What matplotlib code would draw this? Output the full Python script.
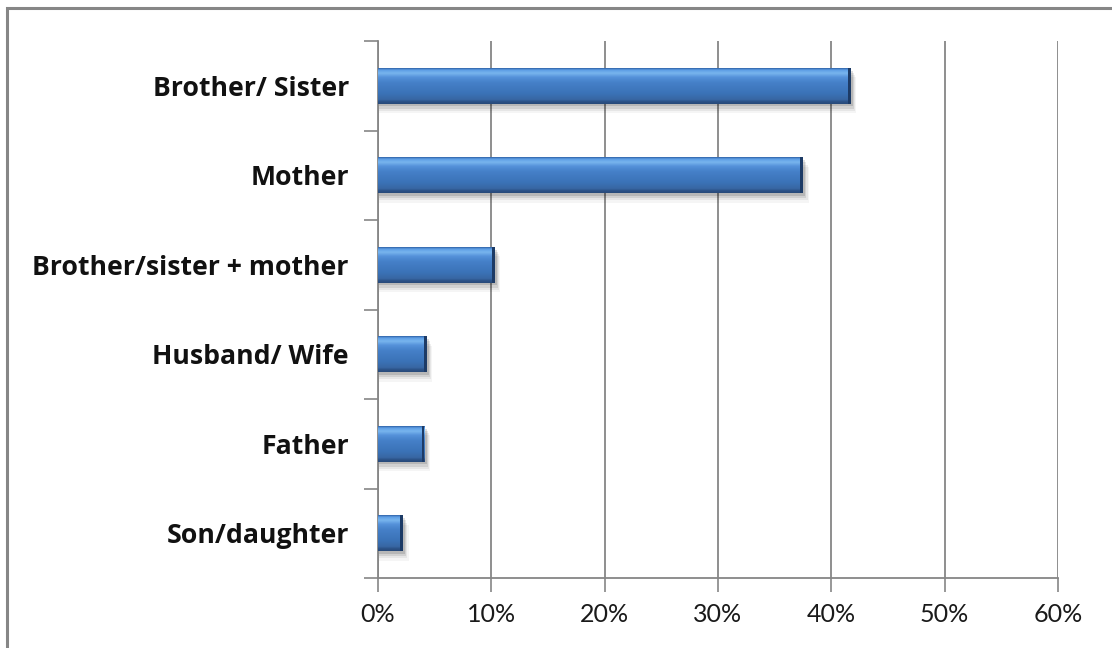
import matplotlib
matplotlib.use('Agg')
import matplotlib.pyplot as plt
import numpy as np
from matplotlib.colors import LinearSegmentedColormap
from matplotlib.patches import Rectangle

categories = ['Brother/ Sister', 'Mother', 'Brother/sister + mother',
              'Husband/ Wife', 'Father', 'Son/daughter']
shares = [0.417, 0.375, 0.103, 0.043, 0.041, 0.022]
tick_values = [0.0, 0.1, 0.2, 0.3, 0.4, 0.5, 0.6]
tick_labels = ['0%', '10%', '20%', '30%', '40%', '50%', '60%']

W, H = 1112, 648
fig = plt.figure(figsize=(W / 100, H / 100), dpi=100)
fig.patch.set_facecolor('white')

# outer chart frame (runs off the right and bottom edges)
fig.patches.append(Rectangle((7 / W, -0.05), 1.2, 1 - 8 / H + 0.05,
                             transform=fig.transFigure, fill=False,
                             edgecolor='#868686', linewidth=2.2, zorder=0))

ax = fig.add_axes([378 / W, 1 - 578 / H, 680 / W, 537 / H])

pos = np.arange(len(categories))
bar_h = 0.4

# soft shadow under each bar
for p, v in zip(pos, shares):
    for k, a in enumerate([0.12, 0.09, 0.06, 0.04]):
        off = 0.03 + k * 0.025
        ax.add_patch(Rectangle((0.001, p - bar_h / 2 + off), v + 0.001 * (k + 1), bar_h,
                               facecolor='#000000', alpha=a, edgecolor='none', zorder=2))

bars = ax.barh(pos, shares, height=bar_h, color='#3d78c0', edgecolor='none', zorder=3)

grad = LinearSegmentedColormap.from_list('bar3d', [
    (0.00, '#2f62a6'), (0.05, '#5d9ee6'), (0.14, '#78b5ee'),
    (0.25, '#5592da'), (0.40, '#4580c8'), (0.70, '#3b73b8'),
    (0.88, '#3867a3'), (0.93, '#2c5389'), (1.00, '#284a79')])
col = np.linspace(0, 1, 128).reshape(-1, 1)
for b in bars:
    x0, y0 = b.get_x(), b.get_y()
    w, h = b.get_width(), b.get_height()
    im = ax.imshow(col, cmap=grad, aspect='auto', origin='upper',
                   extent=(x0, x0 + w, y0 + h, y0), zorder=4, interpolation='bilinear')
    im.set_clip_path(b)
    # dark right end
    ax.add_patch(Rectangle((x0 + w - 0.0025, y0), 0.0025, h,
                           facecolor='#1d3b66', edgecolor='none', zorder=5))

ax.set_xlim(0, 0.6)
ax.set_ylim(len(categories) - 0.5, -0.5)

ax.set_xticks(tick_values)
ax.set_xticklabels(tick_labels, fontsize=18, family='Lato', color='#1a1a1a')
ax.tick_params(axis='x', direction='out', length=10, width=1.2, color='#868686', pad=8)

ax.set_yticks(pos)
ax.set_yticklabels(categories, fontsize=19.2, family='Open Sans', fontweight='bold',
                   color='#111111')
ax.tick_params(axis='y', which='major', length=0, pad=21)
ax.set_yticks(np.arange(-0.5, len(categories)), minor=True)
ax.tick_params(axis='y', which='minor', direction='out', length=10, width=1.2, color='#868686')

ax.grid(axis='x', color='#868686', linewidth=1.3, zorder=1)
ax.set_axisbelow(True)
for s in ['top', 'right']:
    ax.spines[s].set_visible(False)
for s in ['left', 'bottom']:
    ax.spines[s].set_color('#868686')
    ax.spines[s].set_linewidth(1.3)

fig.savefig('out.png', dpi=100, facecolor='white')
